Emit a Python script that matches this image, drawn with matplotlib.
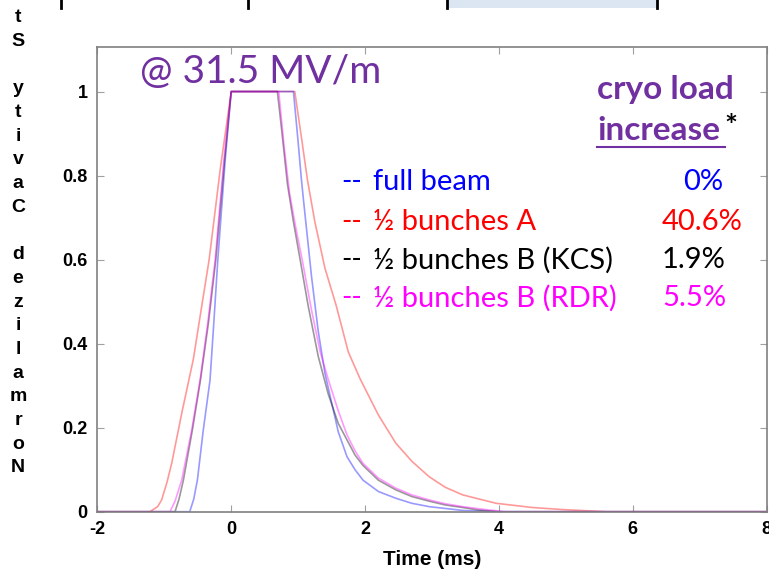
import matplotlib
matplotlib.use("Agg")
import matplotlib.pyplot as plt
from matplotlib.patches import Rectangle
from matplotlib.lines import Line2D

plt.rcParams["axes.unicode_minus"] = False

# cavity voltage traces (time in ms, normalized)
t_full = [-2, -0.62, -0.56, -0.506, -0.417, -0.317, -0.26, -0.2, -0.09, 0, 0.93, 1.0, 1.05, 1.08, 1.2, 1.3,
          1.4, 1.5, 1.6, 1.73, 1.85, 1.97, 2.2, 2.46, 2.7, 2.96, 3.46, 4.0, 8]
v_full = [0, 0, 0.03, 0.075, 0.195, 0.313, 0.45, 0.6, 0.837, 1, 1, 0.88, 0.789, 0.742, 0.56, 0.43,
          0.33, 0.26, 0.19, 0.131, 0.1, 0.075, 0.048, 0.032, 0.02, 0.012, 0.003, 0, 0]

t_half_a = [-2, -1.215, -1.1, -1.04, -0.96, -0.89, -0.74, -0.566, -0.45, -0.33, -0.16, 0, 0.95, 1.05, 1.14,
            1.25, 1.40, 1.57, 1.75, 1.93, 2.2, 2.46, 2.7, 2.96, 3.2, 3.46, 3.96, 4.5, 4.96, 5.6, 8]
v_half_a = [0, 0, 0.012, 0.028, 0.07, 0.115, 0.234, 0.363, 0.48, 0.6, 0.82, 1, 1, 0.89, 0.789,
            0.69, 0.58, 0.49, 0.38, 0.315, 0.23, 0.163, 0.12, 0.083, 0.058, 0.04, 0.02, 0.01, 0.005, 0, 0]

t_kcs = [-2, -0.84, -0.78, -0.715, -0.58, -0.46, -0.34, -0.23, -0.1, 0, 0.69, 0.76, 0.84, 0.93, 1.03, 1.15,
         1.30, 1.45, 1.6, 1.73, 1.85, 1.97, 2.2, 2.46, 2.7, 2.96, 3.2, 3.46, 3.7, 4.0, 8]
v_kcs = [0, 0, 0.03, 0.075, 0.195, 0.313, 0.45, 0.6, 0.837, 1, 1, 0.9, 0.78, 0.69, 0.6, 0.49,
         0.37, 0.28, 0.21, 0.171, 0.135, 0.11, 0.075, 0.052, 0.036, 0.025, 0.016, 0.01, 0.004, 0, 0]

t_rdr = [-2, -0.915, -0.84, -0.74, -0.59, -0.466, -0.35, -0.24, -0.11, 0, 0.71, 0.79, 0.87, 0.96, 1.06, 1.2,
         1.33, 1.45, 1.6, 1.73, 1.85, 1.97, 2.2, 2.46, 2.7, 2.96, 3.2, 3.46, 3.8, 4.1, 8]
v_rdr = [0, 0, 0.025, 0.075, 0.195, 0.313, 0.45, 0.6, 0.837, 1, 1, 0.87, 0.76, 0.68, 0.6, 0.48,
         0.38, 0.315, 0.24, 0.183, 0.145, 0.115, 0.08, 0.056, 0.04, 0.028, 0.019, 0.012, 0.005, 0, 0]

labels = ["full beam", "\u00bd bunches A", "\u00bd bunches B (KCS)", "\u00bd bunches B (RDR)"]
loads = ["0%", "40.6%", "1.9%", "5.5%"]
colors = ["#0000ff", "#ff0000", "#000000", "#ff00ff"]

W, H = 769, 574
fig = plt.figure(figsize=(W / 100, H / 100), dpi=100)


def fx(px):
    return px / W


def fy(py):
    return 1 - py / H


ax = fig.add_axes([fx(97.4), fy(511.7), fx(766.5) - fx(97.4), fy(47) - fy(511.7)])

ax.plot(t_half_a, v_half_a, color=colors[1], alpha=0.4, lw=1.2)
ax.plot(t_full, v_full, color=colors[0], alpha=0.4, lw=1.2)
ax.plot(t_kcs, v_kcs, color=colors[2], alpha=0.4, lw=1.2)
ax.plot(t_rdr, v_rdr, color=colors[3], alpha=0.4, lw=1.2)

ax.set_xlim(-2, 8)
ax.set_ylim(0, 1.106)
ax.set_xticks([-2, 0, 2, 4, 6, 8])
ax.set_yticks([0, 0.2, 0.4, 0.6, 0.8, 1])
ax.set_yticklabels(["0", "0.2", "0.4", "0.6", "0.8", "1"])
ax.tick_params(direction="in", top=True, right=True, length=5, color="#a0a0a0",
               labelsize=13, pad=7)
for lab in ax.get_xticklabels() + ax.get_yticklabels():
    lab.set_fontweight("bold")
    lab.set_family("Liberation Sans")
for s in ax.spines.values():
    s.set_color("#808080")
    s.set_linewidth(1.2)

ax.set_xlabel("Time (ms)", fontsize=15, fontweight="bold", family="Liberation Sans", labelpad=8)

# stacked upright y label, as in the original screenshot (read bottom to top)
ylab = "Normalized Cavity St"
for i, ch in enumerate(ylab):
    if ch != " ":
        fig.text(fx(18), fy(468 - i * 23.7), ch, ha="center", va="center",
                 fontsize=14, fontweight="bold", family="Liberation Sans")

# remains of the slide table above the chart
for px in [61, 248, 447, 657]:
    fig.add_artist(Line2D([fx(px), fx(px)], [fy(0), fy(8)], color="black", lw=2))
fig.add_artist(Rectangle((fx(448), fy(8)), fx(657) - fx(448), fy(0) - fy(8),
                         facecolor="#dce6f2", edgecolor="none"))

purple = "#7030a0"
font = "Lato"
fig.text(fx(140), fy(72), "@ 31.5 MV/m", color=purple, fontsize=28, family=font, va="center")
fig.text(fx(597), fy(90), "cryo load", color=purple, fontsize=24, family=font,
         fontweight="bold", va="center")
fig.text(fx(597), fy(130), "increase", color=purple, fontsize=24, family=font,
         fontweight="bold", va="center")
fig.add_artist(Line2D([fx(597), fx(725)], [fy(147), fy(147)], color=purple, lw=1.5))
fig.text(fx(724), fy(127), "*", color="black", fontsize=22, family=font, fontweight="bold", va="center")

rows_y = [182, 222, 260, 298]
for lab, load, c, y in zip(labels, loads, colors, rows_y):
    fig.text(fx(341), fy(y), "--", color=c, fontsize=20, family=font, va="center")
    fig.text(fx(373), fy(y), lab, color=c, fontsize=21, family=font, va="center")
    if load == "0%":
        fig.text(fx(723), fy(y), load, color=c, fontsize=21, family=font, va="center", ha="right")
    else:
        fig.text(fx(662), fy(y), load, color=c, fontsize=21, family=font, va="center")

fig.savefig("out.png", dpi=100)
